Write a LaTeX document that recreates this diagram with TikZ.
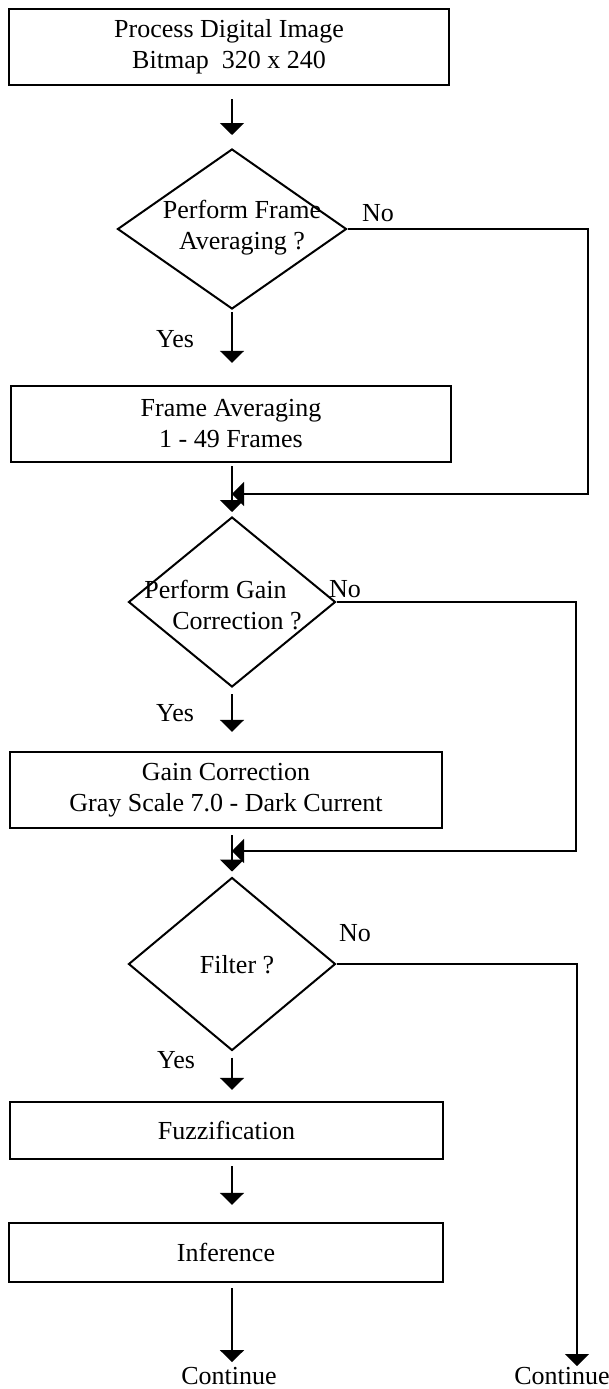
\documentclass[tikz,border=0pt]{standalone}
\usepackage{fontspec}
\setmainfont{Liberation Serif}
\usetikzlibrary{arrows.meta,shapes.geometric}

\newcommand{\flowfont}{\fontsize{26}{31}\selectfont}

\begin{document}
\begin{tikzpicture}[x=1pt, y=-1pt,
	box/.style={draw, line width=2.4pt, minimum width=440pt, minimum height=76pt,
		align=center, font=\flowfont},
	decision/.style={draw, diamond, line width=2pt, inner sep=0pt},
	txt/.style={font=\flowfont, inner sep=0pt, align=center},
	arr/.style={-{Triangle[width=24pt,length=12pt]}, line width=2pt}
]
	\useasboundingbox (0,0) rectangle (609,1389);

	% Input image
	\node[box] (bitmap) at (229,47)
		{Process Digital Image\\ Bitmap\ \ 320 x 240};

	% Frame averaging
	\node[decision, minimum width=229pt, minimum height=160pt] (askavg) at (232,229) {};
	\node[txt] (askavgtxt) at (242,228) {Perform Frame\\ Averaging ?};
	\node[txt] (no1) at (378,213) {No};
	\node[txt] (yes1) at (175,339) {Yes};
	\node[box] (avg) at (231,424)
		{Frame Averaging\\ 1 - 49 Frames};
	\coordinate (j1) at (588,494);
	\coordinate (m1) at (232,494);

	\draw[arr, shorten <=13pt, shorten >=13pt] (bitmap.south -| askavg.north) -- (askavg.north);
	\draw[arr, shorten <=2pt, shorten >=22pt] (askavg.south) -- (askavg.south |- avg.north);
	\draw[arr] (askavg.east) -| (j1) -- (m1);

	% Gain correction
	\node[decision, minimum width=207pt, minimum height=170pt] (askgain) at (232,602) {};
	\node[txt, align=left] (askgaintxt) at (223,605)
		{Perform Gain\\ \hspace*{28pt}Correction ?};
	\node[txt] (no2) at (345,589) {No};
	\node[txt] (yes2) at (175,713) {Yes};
	\node[box, minimum width=432pt] (gain) at (226,790)
		{Gain Correction\\ Gray Scale 7.0 - Dark Current};
	\coordinate (j2) at (576,851);
	\coordinate (m2) at (232,851);

	\draw[arr, shorten <=3pt, shorten >=4pt] (avg.south -| askgain.north) -- (askgain.north);
	\draw[arr, shorten <=6pt, shorten >=19pt] (askgain.south) -- (askgain.south |- gain.north);
	\draw[arr] (askgain.east) -| (j2) -- (m2);

	% Filter
	\node[decision, minimum width=207pt, minimum height=173pt] (askfilt) at (232,964) {};
	\node[txt] (askfilttxt) at (237,965) {Filter ?};
	\node[txt] (no3) at (355,933) {No};
	\node[txt] (yes3) at (176,1060) {Yes};
	\node[box, minimum width=433pt, minimum height=57pt] (fuzzy) at (226.5,1130.5) {Fuzzification};
	\node[box, minimum width=434pt, minimum height=59pt] (infer) at (226,1252.5) {Inference};
	\node[txt] (cont1) at (229,1376) {Continue};
	\node[txt] (cont2) at (562,1376) {Continue};
	\coordinate (e3) at (577,1366);

	\draw[arr, shorten <=6pt, shorten >=5pt] (gain.south -| askfilt.north) -- (askfilt.north);
	\draw[arr, shorten <=6pt, shorten >=11pt] (askfilt.south) -- (askfilt.south |- fuzzy.north);
	\draw[arr, shorten <=6pt, shorten >=17pt] (fuzzy.south -| askfilt.south) -- (askfilt.south |- infer.north);
	\draw[arr, shorten <=5pt, shorten >=5pt] (infer.south -| askfilt.south) -- (askfilt.south |- cont1.north);
	\draw[arr] (askfilt.east) -| (e3);
\end{tikzpicture}
\end{document}
